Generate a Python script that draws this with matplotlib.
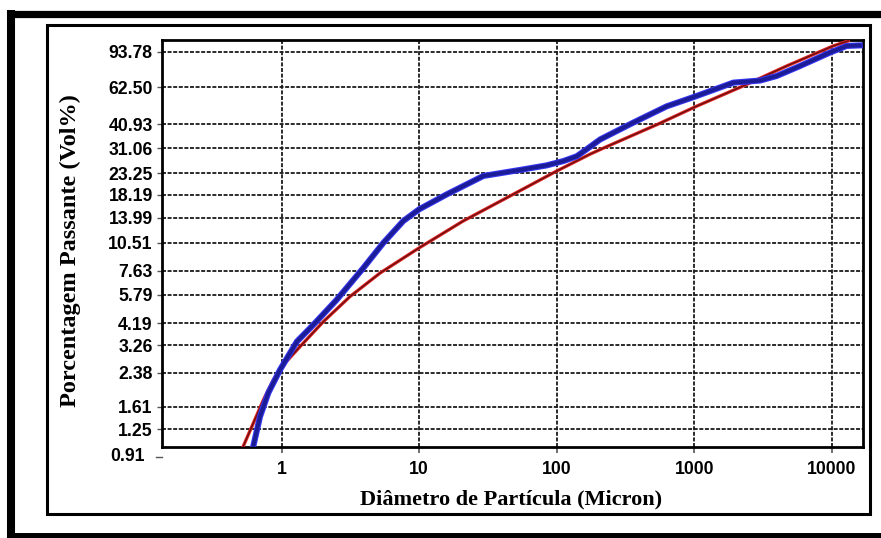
import matplotlib
matplotlib.use("Agg")
import matplotlib.pyplot as plt
from matplotlib.lines import Line2D
from matplotlib.patches import Rectangle
from matplotlib.transforms import blended_transform_factory

# Fitted distribution (thin red) and measured curve (thick blue)
fit_x = [0.50, 0.52, 0.735, 0.869, 1.0, 1.36, 2.01, 3.14, 5.19, 9.98, 20.9, 43.3,
         100, 175, 217, 548, 1043, 2277, 4710, 10270, 13200]
fit_y = [0.97, 1.01, 1.74, 2.19, 2.55, 3.21, 4.27, 5.69, 7.44, 9.92, 13.5, 17.6,
         23.9, 29.0, 31.0, 40.93, 50.2, 63.3, 79.5, 100, 105.9]

meas_x = [0.615, 0.622, 0.695, 0.799, 0.972, 1.29, 1.70, 2.51, 3.92, 5.48, 7.66,
          9.98, 15.85, 29.3, 54.1, 84.5, 112, 140, 170, 207, 361, 631, 1043,
          1925, 3013, 3980, 5890, 9720, 12850, 16000]
meas_y = [0.98, 1.03, 1.44, 1.89, 2.46, 3.40, 4.12, 5.48, 7.88, 10.5, 13.5,
          15.42, 18.3, 22.6, 24.2, 25.5, 26.8, 28.3, 31.1, 34.3, 41.6, 50.1, 56.4,
          65.7, 67.3, 70.9, 79.5, 92.7, 100, 100.6]

y_ticks = [1.25, 1.61, 2.38, 3.26, 4.19, 5.79, 7.63, 10.51, 13.99, 18.19,
           23.25, 31.06, 40.93, 62.50, 93.78]
x_ticks = [1, 10, 100, 1000, 10000]

W, H = 881, 538
fig = plt.figure(figsize=(W / 100, H / 100), dpi=100)
fig.patch.set_facecolor("white")

ax = fig.add_axes([161.7 / W, 1 - 447.3 / H, (863 - 161.7) / W, (447.3 - 40) / H])
ax.set_xscale("log")
ax.set_yscale("log")
ax.set_xlim(0.134, 16900)
ax.set_ylim(1.014, 107)

ax.set_xticks(x_ticks)
ax.set_xticklabels([str(v) for v in x_ticks])
ax.set_yticks(y_ticks)
ax.set_yticklabels([f"{v:.2f}" for v in y_ticks])
ax.minorticks_off()

tick_font = dict(family="Liberation Sans", weight="bold", size=12.7)
for lab in ax.get_xticklabels() + ax.get_yticklabels():
    lab.set_fontproperties(matplotlib.font_manager.FontProperties(**tick_font))
ax.tick_params(axis="y", length=3.5, width=1, color="#555555", pad=3.0)
ax.tick_params(axis="x", length=4, width=1.2, color="#555555", pad=6)

ax.grid(True, which="major", color="#1a1a1a", lw=1.3, ls=(0, (2.2, 0.9)), zorder=0)
for s in ax.spines.values():
    s.set_linewidth(2)
    s.set_color("black")

ax.plot(fit_x, fit_y, color="#e02424", lw=2.4, zorder=3, solid_joinstyle="round")
ax.plot(fit_x, fit_y, color="#6a0f0f", lw=1.0, zorder=3.1, solid_joinstyle="round")
ax.plot(meas_x, meas_y, color="#3535f0", lw=4.4, zorder=4, solid_joinstyle="round")
ax.plot(meas_x, meas_y, color="#1c1c96", lw=2.8, zorder=4.1, solid_joinstyle="round")

# lowest class label sits below the frame
tr = blended_transform_factory(ax.transAxes, ax.transData)
ax.text(-0.024, 0.91, "0.91", transform=tr, ha="right", va="center",
        clip_on=False, **tick_font)
ax.plot([-0.008, 0.0], [0.91, 0.91], transform=tr, color="#555555", lw=1,
        clip_on=False)

fig.text(511 / W, 1 - 499 / H, "Diâmetro de Partícula (Micron)",
         ha="center", va="center", family="Liberation Serif", weight="bold", size=16)
fig.text(70 / W, 1 - 251 / H, "Porcentagem Passante (Vol%)", rotation=90,
         ha="center", va="center", family="Liberation Serif", weight="bold", size=17.5)

# inner and outer frames
fig.add_artist(Rectangle((46.5 / W, 1 - 513.5 / H), (870 - 46.5) / W, (513.5 - 24.5) / H,
                         transform=fig.transFigure, fill=False, lw=2.2,
                         edgecolor="black"))
fig.add_artist(Line2D([7 / W, 1.0], [1 - 13.5 / H] * 2, transform=fig.transFigure,
                      color="black", lw=5.2, solid_capstyle="butt"))
fig.add_artist(Line2D([11 / W] * 2, [1 - 10 / H, 0.0], transform=fig.transFigure,
                      color="black", lw=5.8, solid_capstyle="butt"))
fig.add_artist(Line2D([7 / W, 1.0], [1 - 535.5 / H] * 2, transform=fig.transFigure,
                      color="black", lw=5.0, solid_capstyle="butt"))

fig.savefig("out.png", dpi=100, facecolor="white")
